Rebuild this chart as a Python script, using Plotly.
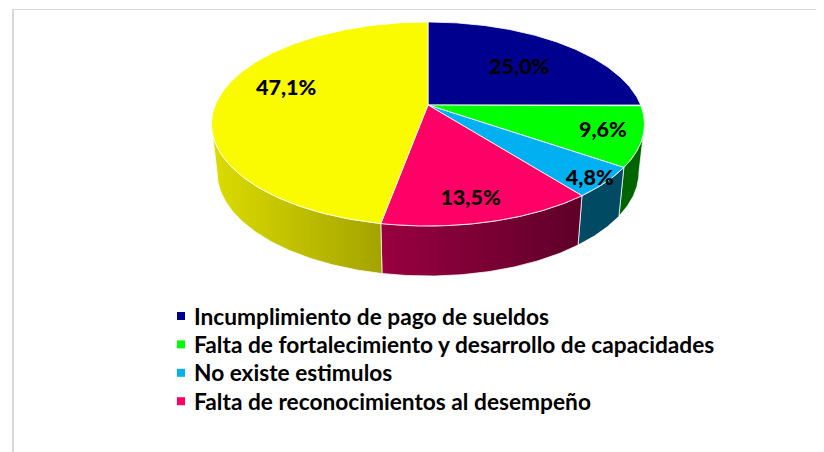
import numpy as np
import plotly.graph_objects as go

# --- data ---
categories = [
    "Incumplimiento de pago de sueldos",
    "Falta de fortalecimiento y desarrollo de capacidades",
    "No existe estimulos",
    "Falta de reconocimientos al desempeño",
    "Otros",
]
values = [25.0, 9.6, 4.8, 13.5, 47.1]
value_labels = ["25,0%", "9,6%", "4,8%", "13,5%", "47,1%"]
in_legend = [True, True, True, True, False]

# --- styles ---
top_colors = ["#00008F", "#00FF00", "#00B0F0", "#FF0066", "#FAFA00"]
side_colors = [
    ("#00005A", "#00005A"),
    ("#006400", "#006400"),
    ("#004A63", "#004A63"),
    ("#990040", "#5E0028"),
    ("#DCDC00", "#A3A300"),
]
label_radius = [0.64, 0.82, 0.93, 0.815, 0.714]
label_turn_deg = [1.5, -0.8, 0.8, 1.8, 9.8]
label_drop_px = [4, 3, 2, 2, 2]

# --- projection: a tilted disc seen in perspective ---
CX, TOP_CY, TOP_RX, TOP_RY = 428.0, 124.0, 216.5, 102.0
BOT_CY, BOT_RX, BOT_RY = 172.0, 211.0, 104.0
TILT = 19.0 / TOP_RY
S = np.sqrt(1 - TILT ** 2)


def project(theta, r=1.0, cy=TOP_CY, rx=TOP_RX, ry=TOP_RY):
    """theta is clockwise from 12 o'clock, radians."""
    u, v = r * np.sin(theta), r * np.cos(theta)
    d = 1 + TILT * v
    return CX + rx * u * S / d, cy - ry * (v + TILT) / d


fig = go.Figure()

edges = np.cumsum([0] + values) / sum(values) * 2 * np.pi
vis_start = np.arccos(-TILT)
vis_end = 2 * np.pi - vis_start

# sides first, so the top face overlaps them
for i in range(len(values)):
    a, b = max(edges[i], vis_start), min(edges[i + 1], vis_end)
    if b <= a:
        continue
    t = np.linspace(a, b, 80)
    xt, yt = project(t)
    xb, yb = project(t[::-1], cy=BOT_CY, rx=BOT_RX, ry=BOT_RY)
    left, right = side_colors[i]
    fig.add_trace(go.Scatter(
        x=np.r_[xt, xb, xt[0]], y=np.r_[yt, yb, yt[0]],
        mode="lines", fill="toself",
        line=dict(color="rgba(255,255,255,0.75)", width=1),
        fillgradient=dict(type="horizontal", colorscale=[[0, left], [1, right]]),
        hoverinfo="skip", showlegend=False,
    ))

# top face
for i in range(len(values)):
    t = np.linspace(edges[i], edges[i + 1], 160)
    x, y = project(t)
    ax, ay = project(0.0, r=0.0)
    fig.add_trace(go.Scatter(
        x=np.r_[ax, x, ax], y=np.r_[ay, y, ay],
        mode="lines", fill="toself", fillcolor=top_colors[i],
        line=dict(color="rgba(255,255,255,0.8)", width=1),
        name=categories[i], text=value_labels[i], hoverinfo="name+text",
        showlegend=False,
    ))

# value labels
mids = (edges[:-1] + edges[1:]) / 2 + np.radians(label_turn_deg)
lx, ly = project(mids, r=np.array(label_radius))
fig.add_trace(go.Scatter(
    x=lx, y=ly + np.array(label_drop_px), mode="text", text=value_labels,
    textposition="middle center",
    textfont=dict(family="Lato", size=21.5, color="black", weight=900),
    hoverinfo="skip", showlegend=False,
))

# legend
LEG_X, LEG_TEXT_X, LEG_Y0, LEG_DY = 181, 194, 316, 28.4
row = 0
for i, name in enumerate(categories):
    if not in_legend[i]:
        continue
    yy = LEG_Y0 + LEG_DY * row
    fig.add_trace(go.Scatter(
        x=[LEG_X], y=[yy], mode="markers",
        marker=dict(symbol="square", size=8, color=top_colors[i]),
        hoverinfo="skip", showlegend=False,
    ))
    fig.add_annotation(
        x=LEG_TEXT_X, y=yy, text=name, xanchor="left", yanchor="middle",
        showarrow=False, xref="x", yref="y", xshift=-2,
        font=dict(family="Lato", size=22.7, color="black", weight=700),
    )
    row += 1

# The page sets the plot 8 px in from the top-left corner, so the axes
# cover the window area from 8 px onward.
PAGE_INSET = 8
fig.update_layout(
    width=824 - PAGE_INSET, height=452 - PAGE_INSET,
    margin=dict(l=0, r=0, t=0, b=0),
    paper_bgcolor="white", plot_bgcolor="white", showlegend=False,
    xaxis=dict(range=[PAGE_INSET, 824], visible=False, fixedrange=True),
    yaxis=dict(range=[452, PAGE_INSET], visible=False, fixedrange=True),
    shapes=[
        dict(type="line", xref="x", yref="y", x0=13, x1=13, y0=9, y1=452,
             line=dict(color="#D9D9D9", width=2)),
        dict(type="line", xref="x", yref="y", x0=12, x1=824, y0=9.5, y1=9.5,
             line=dict(color="#D9D9D9", width=1)),
    ],
)
fig.write_html("out.html")
